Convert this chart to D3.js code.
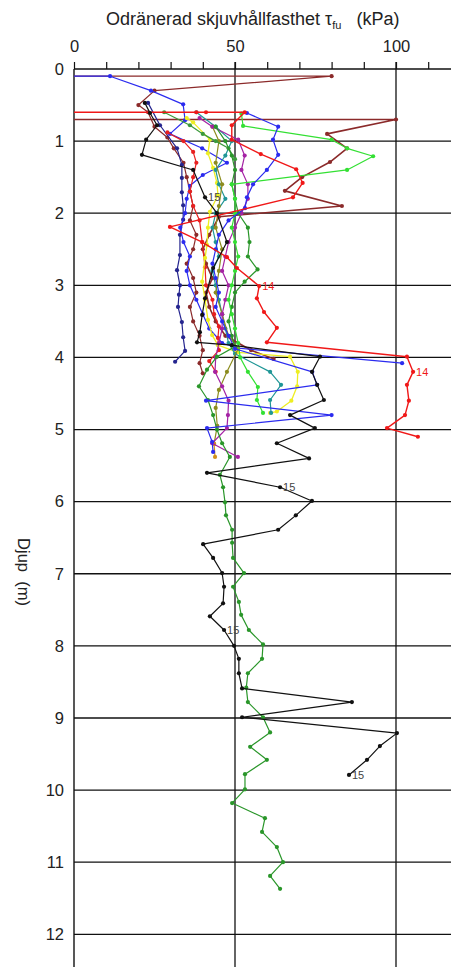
<!DOCTYPE html>
<html>
<head>
<meta charset="utf-8">
<script src="https://cdn.jsdelivr.net/npm/d3@7"></script>
<style>
  html, body { margin: 0; padding: 0; background: #fff; }
  svg { display: block; }
  text { font-family: "Liberation Sans", Arial, sans-serif; fill: #222; white-space: pre; }
</style>
</head>
<body>
<svg id="chart" width="451" height="967"></svg>
<script>
// Vane test profiles: undrained shear strength (kPa) against depth (m)
const xTicks = [0, 10, 20, 30, 40, 50, 60, 70, 80, 90, 100, 110];
const xTickLabels = [0, 50, 100];
const depthTicks = [0, 1, 2, 3, 4, 5, 6, 7, 8, 9, 10, 11, 12];

const brownA = [[0,0.1],[80,0.1],[25,0.3],[20,0.5],[23,0.6],[25,0.8],[29,0.95],[31,1.1],[34,1.3],[35,1.5],[36,1.7],[37,1.9],[36,2.1],[38,2.3],[37,2.5],[35,2.7],[37,2.9],[38,3.1],[36,3.3],[37,3.5],[39,3.7],[40,3.9],[39,4.08],[40,4.22]];
const brownB = [[0,0.7],[100,0.7],[78.6,0.9],[84.8,1.1],[79.5,1.29],[70.8,1.5],[65.5,1.69],[83.2,1.9],[45,2.05],[42,2.3],[40,2.5],[41,2.7],[43,2.9],[41,3.1],[42,3.3],[44,3.5],[47,3.7],[55,3.9],[62,4.02]];
const red1 = [[0,0.6],[38,0.6],[41,0.6],[53,0.6],[49,0.78],[49,0.98],[58,1.18],[69,1.39],[71,1.58],[68,1.78],[29.8,2.19],[39.8,2.4],[47.5,2.61],[50.6,2.76],[57.5,3.01],[56.8,3.18],[59,3.37],[63,3.59],[59.9,3.79],[103.4,3.99],[105.3,4.2],[103.4,4.38],[104,4.6],[102.8,4.8],[97.2,4.98],[106.8,5.1]];
const red2 = [[29,0.88],[34,1.0],[37,1.15],[38,1.3],[37,1.5],[36,1.7],[37,1.9],[39,2.1],[39.8,2.4],[40.7,2.75],[41,3.0],[43,3.2],[43.5,3.4],[45,3.57],[44.7,3.73],[45,3.9],[42,4.05],[44,4.2]];
const lime = [[52,0.62],[52.5,0.79],[80,0.98],[84.8,1.1],[92.9,1.21],[84.8,1.4],[49,1.6],[50,1.8],[50,2.0],[49,2.2],[50,2.4],[51,2.6],[50,2.8],[49,3.0],[48,3.2],[49,3.4],[50,3.6],[51,3.8],[51.6,4.0],[54,4.2],[57.1,4.41],[56.8,4.59],[58.7,4.77]];
const green = [[44,0.8],[47,1.0],[49,1.2],[50,1.4],[49,1.6],[50,1.8],[51,2.0],[54,2.2],[54.5,2.4],[54,2.6],[57,2.78],[53,2.95],[50,3.1],[49,3.3],[48,3.5],[49,3.7],[50,3.85],[44.4,3.99],[41.3,4.17],[38.8,4.4],[41.6,4.59],[43.2,4.8],[44.4,5.0],[46,5.19],[48.4,5.38],[45.3,5.63],[46.3,5.8],[46.9,6.01],[47.2,6.19],[49.1,6.39],[49.1,6.57],[49.4,6.78],[52.8,6.99],[49.4,7.18],[51.2,7.39],[51.9,7.57],[54.3,7.78],[58.7,7.98],[58.4,8.18],[54,8.38],[53.5,8.58],[54,8.78],[58.7,8.99],[60.9,9.2],[54.7,9.4],[59.9,9.58],[53.1,9.78],[53.1,9.99],[49.1,10.18],[59.3,10.39],[58.4,10.58],[63,10.79],[64.9,11.0],[60.9,11.19],[64,11.37]];
const black = [[22,0.47],[23.6,0.61],[25.8,0.78],[22.4,0.98],[21.1,1.19],[37,1.4],[40.7,1.78],[44.4,2.0],[47.5,2.4],[43.2,2.76],[40.7,3.18],[39.8,3.41],[39.1,3.65],[38.2,3.79],[49,3.83],[76.4,3.99],[73.9,4.2],[75.5,4.38],[77.6,4.59],[67.1,4.8],[74.8,4.98],[63,5.19],[73,5.4],[41.3,5.6],[64,5.8],[73.9,5.99],[68.9,6.19],[63.4,6.39],[40.1,6.59],[43.2,6.78],[46,6.99],[46.6,7.18],[46.3,7.41],[42.2,7.59],[46.6,7.78],[49.7,8.0],[51.2,8.18],[51.2,8.38],[52.2,8.59],[86.3,8.78],[52.2,8.99],[100.3,9.21],[95,9.39],[91,9.58],[85.4,9.79]];
const navy = [[23,0.47],[26.7,0.78],[32,1.1],[33.5,1.33],[33.5,1.51],[33.5,1.71],[33.9,1.89],[33.9,2.09],[32.9,2.3],[32.9,2.58],[32,2.79],[32.9,3.0],[32.6,3.13],[32.3,3.3],[33.5,3.51],[33.9,3.72],[34.5,3.91],[31.4,4.06]];
const blueA = [[0,0.1],[11.2,0.1],[23.9,0.3],[33.9,0.49],[34.5,0.71],[29.8,0.9],[39.8,1.1],[47.5,1.3],[40,1.47],[36,1.62],[35,1.8],[34.5,2.0],[33,2.2],[34,2.4],[36,2.6],[35,2.8],[36,3.0],[38,3.2],[40,3.4],[42,3.6],[46,3.8],[50.9,3.87],[101.9,4.08]];
const blueB = [[53.7,0.61],[63.4,0.8],[61.8,0.98],[63.4,1.19],[59.9,1.4],[55.6,1.6],[53.7,1.78],[53.1,1.93],[48,2.1],[45,2.3],[44,2.5],[43,2.7],[44,2.9],[45,3.1],[44,3.3],[46,3.5],[48,3.7],[50,3.88],[74,4.2],[75.5,4.38],[41,4.6],[80,4.8],[41.3,4.98],[42.9,5.17],[43.2,5.31]];
const yellow = [[35,0.68],[37,0.74],[42.2,0.98],[41.6,1.17],[43.2,1.37],[44.4,1.58],[44.7,1.75],[42.2,1.98],[41.6,2.2],[41.3,2.44],[40.7,2.62],[39.8,2.95],[40.7,3.2],[41.6,3.48],[42.9,3.69],[44.7,3.83],[50.9,3.93],[67.1,3.99],[69.5,4.2],[69.3,4.4],[67.5,4.6],[63,4.75],[60.9,4.77]];
const teal = [[38,0.6],[44,0.8],[49,1.0],[47,1.2],[44,1.4],[45,1.6],[47,1.8],[44,2.0],[43,2.2],[44,2.4],[45,2.6],[43,2.8],[44,3.0],[45,3.2],[46,3.4],[47,3.6],[48,3.8],[50,3.95],[60.9,4.2],[64.3,4.38],[60.9,4.59],[61.2,4.77]];
const purple = [[39,0.68],[43,0.8],[51,0.98],[53,1.2],[52,1.4],[54,1.6],[54,1.8],[52,2.0],[50,2.2],[48,2.4],[47,2.6],[46,2.8],[48,3.0],[47,3.2],[46,3.4],[46,3.6],[45,3.8],[44,4.0],[43.8,4.2],[46,4.4],[48,4.6],[47.8,4.8],[47.5,4.98],[42.9,5.19],[50.9,5.38]];
const olive = [[43,0.8],[45,1.0],[44,1.3],[46,1.6],[45,1.9],[44,2.2],[46,2.5],[45,2.8],[44,3.1],[46,3.4],[48,3.7],[51,3.88],[47.5,4.2],[45,4.45],[44,4.7],[44.5,4.95],[43.5,5.2]];
const orange = [[43.5,5.2],[43.8,5.38]];
const seagreen = [[28,0.6],[36,0.78],[40,0.9],[44,1.0],[48,1.1],[50,1.25]];

const series = [
  { name: "brownA", data: brownA, color: "#8b2a2a", width: 1.2 },
  { name: "brownB", data: brownB, color: "#8b2a2a", width: 1.6 },
  { name: "navy", data: navy, color: "#25258f", width: 1.2 },
  { name: "blueA", data: blueA, color: "#2b2bef", width: 1.2 },
  { name: "red2", data: red2, color: "#e82020", width: 1.2 },
  { name: "yellow", data: yellow, color: "#eeee22", width: 1.3 },
  { name: "teal", data: teal, color: "#1f9696", width: 1.2 },
  { name: "olive", data: olive, color: "#8c8c1e", width: 1.2 },
  { name: "orange", data: orange, color: "#d0901c", width: 1.2 },
  { name: "purple", data: purple, color: "#a422a4", width: 1.2 },
  { name: "seagreen", data: seagreen, color: "#3c9a3c", width: 1.2 },
  { name: "green", data: green, color: "#2a962a", width: 1.2 },
  { name: "lime", data: lime, color: "#33e033", width: 1.2 },
  { name: "blueB", data: blueB, color: "#2b2bef", width: 1.2 },
  { name: "red1", data: red1, color: "#f01818", width: 1.4 },
  { name: "black", data: black, color: "#111111", width: 1.2 }
];

// Borehole numbers written beside a point
const pointLabels = [
  { text: "15", at: [40.7, 1.78], color: "#444" },
  { text: "15", at: [64, 5.8], color: "#444" },
  { text: "15", at: [46.6, 7.78], color: "#444" },
  { text: "15", at: [85.4, 9.79], color: "#444" },
  { text: "14", at: [57.5, 3.01], color: "#f01818" },
  { text: "14", at: [105.3, 4.2], color: "#f01818" }
];

const svg = d3.select("#chart");
const W = 451, H = 967;
const x = d3.scaleLinear().domain([0, 100]).range([74, 396]);
const y = d3.scaleLinear().domain([0, 12]).range([69, 934.3]);

// Horizontal grid at every metre
svg.append("g")
  .selectAll("line")
  .data(depthTicks.filter(d => d > 0))
  .join("line")
  .attr("x1", x(0)).attr("x2", W)
  .attr("y1", d => y(d)).attr("y2", d => y(d))
  .attr("stroke", "#111").attr("stroke-width", 1.3);

// Vertical grid at 50 and 100 kPa
svg.append("g")
  .selectAll("line")
  .data([50, 100])
  .join("line")
  .attr("x1", d => x(d)).attr("x2", d => x(d))
  .attr("y1", y(0) - 7).attr("y2", H)
  .attr("stroke", "#111").attr("stroke-width", 1.3);

// Top axis with ticks every 10 kPa
const xAxis = d3.axisTop(x)
  .tickValues(xTicks)
  .tickSize(7)
  .tickSizeOuter(0)
  .tickFormat(d => xTickLabels.includes(d) ? d : "");
const gx = svg.append("g")
  .attr("transform", `translate(0,${y(0)})`)
  .call(xAxis);
gx.select(".domain").attr("stroke", "#111").attr("stroke-width", 1.4)
  .attr("d", `M${x(0)},0H${W}`);
gx.selectAll(".tick line").attr("stroke", "#111").attr("stroke-width", 1.2);
gx.selectAll(".tick text")
  .attr("y", -17).attr("dy", 0)
  .style("font-size", "16.5px")
  .style("font-family", "'Liberation Sans', Arial, sans-serif")
  .attr("fill", "#222");

// Left axis: depth labels
const yAxis = d3.axisLeft(y)
  .tickValues(depthTicks)
  .tickSize(0)
  .tickPadding(10)
  .tickFormat(d3.format("d"));
const gy = svg.append("g")
  .attr("transform", `translate(${x(0)},0)`)
  .call(yAxis);
gy.select(".domain").attr("stroke", "#111").attr("stroke-width", 1.4)
  .attr("d", `M0,${y(0)}V${H}`);
gy.selectAll(".tick text")
  .style("font-size", "16.5px")
  .style("font-family", "'Liberation Sans', Arial, sans-serif")
  .attr("fill", "#222");

// Profiles
const line = d3.line().x(d => x(d[0])).y(d => y(d[1]));
const gs = svg.append("g");
series.forEach(s => {
  const g = gs.append("g");
  g.append("path")
    .attr("d", line(s.data))
    .attr("fill", "none")
    .attr("stroke", s.color)
    .attr("stroke-width", s.width)
    .attr("stroke-linejoin", "round");
  g.selectAll("circle")
    .data(s.data.filter(d => d[0] > 0))
    .join("circle")
    .attr("cx", d => x(d[0]))
    .attr("cy", d => y(d[1]))
    .attr("r", 2.1)
    .attr("fill", s.color);
});

svg.append("g")
  .selectAll("text")
  .data(pointLabels)
  .join("text")
  .attr("x", d => x(d.at[0]) + 3)
  .attr("y", d => y(d.at[1]))
  .attr("dy", "0.35em")
  .style("font-size", "11px")
  .style("fill", d => d.color)
  .text(d => d.text);

// Titles
const title = svg.append("text")
  .attr("x", 106).attr("y", 25)
  .attr("text-anchor", "start")
  .style("font-size", "18px");
title.append("tspan").text("Odränerad skjuvhållfasthet τ");
title.append("tspan").attr("dy", 4).style("font-size", "11px").text("fu");
title.append("tspan").attr("dy", -4).text("   (kPa)");

svg.append("text")
  .attr("transform", "translate(18,572) rotate(90)")
  .attr("text-anchor", "middle")
  .style("font-size", "16.5px")
  .text("Djup  (m)");
</script>
</body>
</html>
